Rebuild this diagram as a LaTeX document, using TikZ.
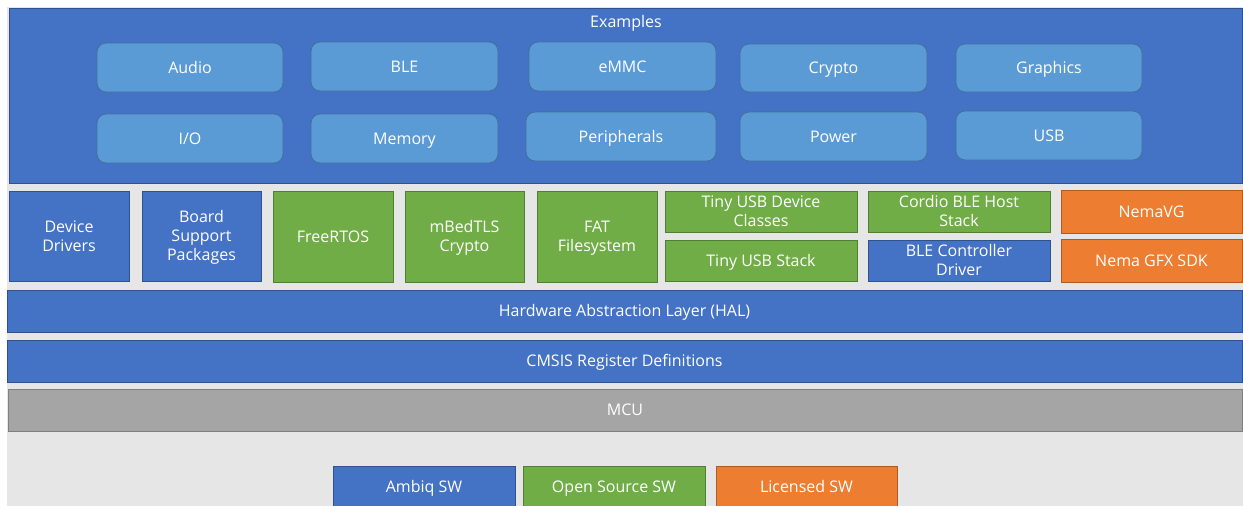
\documentclass[tikz,border=0pt]{standalone}
\usepackage{fontspec}
\usepackage{array}
\setmainfont{Open Sans}
\definecolor{bgray}{HTML}{E7E6E6}
\definecolor{ablue}{HTML}{4472C4}
\definecolor{ablueedge}{HTML}{2F528F}
\definecolor{lblue}{HTML}{5B9BD5}
\definecolor{lblueedge}{HTML}{41719C}
\definecolor{ogreen}{HTML}{70AD47}
\definecolor{ogreenedge}{HTML}{507E32}
\definecolor{lorange}{HTML}{ED7D31}
\definecolor{lorangeedge}{HTML}{AE5A21}
\definecolor{mgray}{HTML}{A5A5A5}
\definecolor{mgrayedge}{HTML}{7F7F7F}
\newcommand\lines[1]{{\renewcommand\arraystretch{0}%
  \begin{tabular}{@{}>{\rule[-4pt]{0pt}{19pt}}c@{}}#1\end{tabular}}}
\tikzset{
  base/.style={draw, line width=0.8pt, text=white, inner sep=0pt,
    font=\fontsize{16}{18.5}\selectfont},
  ambiq/.style={base, fill=ablue, draw=ablueedge},
  example/.style={base, fill=lblue, draw=lblueedge, rounded corners=9pt},
  opensrc/.style={base, fill=ogreen, draw=ogreenedge},
  licensed/.style={base, fill=lorange, draw=lorangeedge},
  hw/.style={base, fill=mgray, draw=mgrayedge},
}
\newcommand\blk[7]{\node[#6, minimum width={(#4)-(#2)}, minimum height={(#5)-(#3)}] (#1) at ({((#2)+(#4))/2},{((#3)+(#5))/2}) {\lines{#7}};}
\begin{document}
\begin{tikzpicture}[x=1pt, y=-1pt]
\useasboundingbox (0,0) rectangle (1243,506);
\fill[white] (0,0) rectangle (1243,506);
\fill[bgray] (7,7) rectangle (1243,506);
% Examples
\blk{examples}{9}{8}{1242}{183}{ambiq}{}
\node[base, draw=none] (extitle) at (626,22) {\lines{Examples}};
\blk{audio}{97}{43}{283}{92}{example}{Audio}
\blk{ble}{311}{42}{498}{91}{example}{BLE}
\blk{emmc}{529}{42}{716}{91}{example}{eMMC}
\blk{crypto}{740}{44}{927}{92}{example}{Crypto}
\blk{graphics}{956}{44}{1142}{92}{example}{Graphics}
\blk{io}{97}{114}{283}{163}{example}{I/O}
\blk{memory}{311}{114}{498}{163}{example}{Memory}
\blk{periph}{526}{112}{716}{161}{example}{Peripherals}
\blk{power}{740}{112}{927}{161}{example}{Power}
\blk{usb}{956}{111}{1142}{160}{example}{USB}
% middleware row
\blk{devdrv}{9}{191}{129}{281}{ambiq}{Device\\Drivers}
\blk{bsp}{142}{191}{261}{281}{ambiq}{Board\\Support\\Packages}
\blk{freertos}{273}{191}{393}{282}{opensrc}{FreeRTOS}
\blk{mbedtls}{405}{191}{524}{282}{opensrc}{mBedTLS\\Crypto}
\blk{fat}{537}{191}{657}{282}{opensrc}{FAT\\Filesystem}
\blk{tusbdev}{665}{191}{857}{232}{opensrc}{Tiny USB Device\\Classes}
\blk{tusbstack}{665}{240}{857}{281}{opensrc}{Tiny USB Stack}
\blk{cordio}{868}{191}{1050}{232}{opensrc}{Cordio BLE Host\\Stack}
\blk{blectrl}{868}{240}{1050}{281}{ambiq}{BLE Controller\\Driver}
\blk{nemavg}{1061}{190}{1242}{233}{licensed}{NemaVG}
\blk{nemagfx}{1061}{239}{1242}{282}{licensed}{Nema GFX SDK}
% layers
\blk{hal}{7}{290}{1242}{332}{ambiq}{Hardware Abstraction Layer (HAL)}
\blk{cmsis}{7}{340}{1242}{382}{ambiq}{CMSIS Register Definitions}
\blk{mcu}{8}{389}{1242}{431}{hw}{MCU}
% legend
\blk{legambiq}{333}{466}{515}{508}{ambiq}{Ambiq SW}
\blk{legopen}{523}{466}{705}{508}{opensrc}{Open Source SW}
\blk{leglic}{716}{466}{897}{508}{licensed}{Licensed SW}
\end{tikzpicture}
\end{document}
